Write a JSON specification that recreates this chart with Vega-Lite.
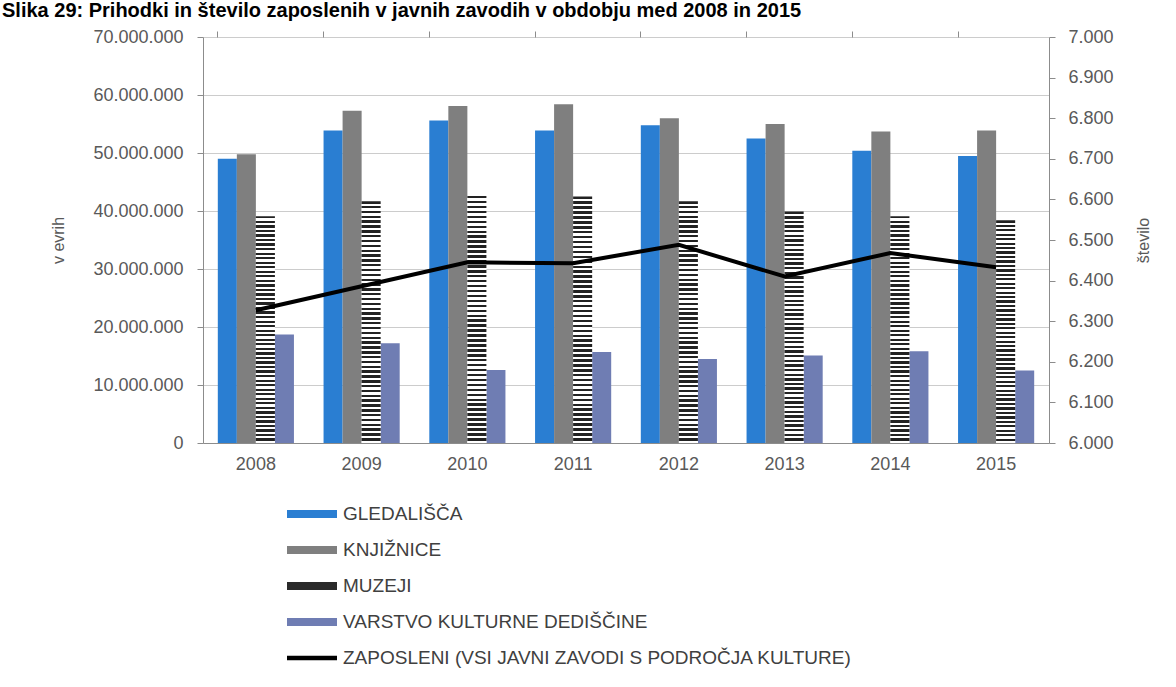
{
  "$schema": "https://vega.github.io/schema/vega-lite/v6.json",
  "width": 846,
  "height": 406,
  "autosize": "none",
  "padding": {"left": 203, "top": 37, "right": 127, "bottom": 244},
  "background": "white",
  "title": {
    "text": "Slika 29: Prihodki in število zaposlenih v javnih zavodih v obdobju med 2008 in 2015",
    "anchor": "start",
    "frame": "group",
    "dx": -201,
    "offset": 19,
    "dy": 28,
    "baseline": "alphabetic",
    "fontSize": 20,
    "fontWeight": "bold",
    "color": "#000000",
    "font": "Liberation Sans"
  },
  "config": {
    "font": "Liberation Sans",
    "locale": {"number": {"decimal": ",", "thousands": ".", "grouping": [3], "currency": ["", " €"]}},
    "view": {"stroke": null},
    "axis": {
      "labelFont": "Liberation Sans",
      "labelFontSize": 18,
      "labelColor": "#595959",
      "titleFont": "Liberation Sans",
      "titleFontSize": 16,
      "titleFontWeight": "normal",
      "titleColor": "#595959",
      "domainColor": "#8c8c8c",
      "tickColor": "#8c8c8c",
      "gridColor": "#cccccc"
    },
    "legend": {
      "orient": "none",
      "legendX": 84,
      "legendY": 452,
      "direction": "vertical",
      "symbolType": "M-1,-0.16H1V0.16H-1Z",
      "symbolSize": 2500,
      "symbolStrokeWidth": 0,
      "labelFont": "Liberation Sans",
      "labelFontSize": 19,
      "labelColor": "#404040",
      "labelOffset": 6,
      "labelLimit": 800,
      "rowPadding": 1
    }
  },
  "data": {
    "values": [
      {"leto": "2008", "serija": "GLEDALIŠČA", "vrednost": 49000000},
      {"leto": "2009", "serija": "GLEDALIŠČA", "vrednost": 53900000},
      {"leto": "2010", "serija": "GLEDALIŠČA", "vrednost": 55600000},
      {"leto": "2011", "serija": "GLEDALIŠČA", "vrednost": 53900000},
      {"leto": "2012", "serija": "GLEDALIŠČA", "vrednost": 54800000},
      {"leto": "2013", "serija": "GLEDALIŠČA", "vrednost": 52500000},
      {"leto": "2014", "serija": "GLEDALIŠČA", "vrednost": 50400000},
      {"leto": "2015", "serija": "GLEDALIŠČA", "vrednost": 49500000},
      {"leto": "2008", "serija": "KNJIŽNICE", "vrednost": 49800000},
      {"leto": "2009", "serija": "KNJIŽNICE", "vrednost": 57300000},
      {"leto": "2010", "serija": "KNJIŽNICE", "vrednost": 58100000},
      {"leto": "2011", "serija": "KNJIŽNICE", "vrednost": 58400000},
      {"leto": "2012", "serija": "KNJIŽNICE", "vrednost": 56000000},
      {"leto": "2013", "serija": "KNJIŽNICE", "vrednost": 55000000},
      {"leto": "2014", "serija": "KNJIŽNICE", "vrednost": 53700000},
      {"leto": "2015", "serija": "KNJIŽNICE", "vrednost": 53900000},
      {"leto": "2008", "serija": "MUZEJI", "vrednost": 39100000},
      {"leto": "2009", "serija": "MUZEJI", "vrednost": 41700000},
      {"leto": "2010", "serija": "MUZEJI", "vrednost": 42600000},
      {"leto": "2011", "serija": "MUZEJI", "vrednost": 42500000},
      {"leto": "2012", "serija": "MUZEJI", "vrednost": 41700000},
      {"leto": "2013", "serija": "MUZEJI", "vrednost": 39900000},
      {"leto": "2014", "serija": "MUZEJI", "vrednost": 39100000},
      {"leto": "2015", "serija": "MUZEJI", "vrednost": 38400000},
      {"leto": "2008", "serija": "VARSTVO KULTURNE DEDIŠČINE", "vrednost": 18700000},
      {"leto": "2009", "serija": "VARSTVO KULTURNE DEDIŠČINE", "vrednost": 17200000},
      {"leto": "2010", "serija": "VARSTVO KULTURNE DEDIŠČINE", "vrednost": 12600000},
      {"leto": "2011", "serija": "VARSTVO KULTURNE DEDIŠČINE", "vrednost": 15700000},
      {"leto": "2012", "serija": "VARSTVO KULTURNE DEDIŠČINE", "vrednost": 14500000},
      {"leto": "2013", "serija": "VARSTVO KULTURNE DEDIŠČINE", "vrednost": 15100000},
      {"leto": "2014", "serija": "VARSTVO KULTURNE DEDIŠČINE", "vrednost": 15800000},
      {"leto": "2015", "serija": "VARSTVO KULTURNE DEDIŠČINE", "vrednost": 12500000},
      {"leto": "2008", "serija": "ZAPOSLENI (VSI JAVNI ZAVODI S PODROČJA KULTURE)", "vrednost": 6327},
      {"leto": "2009", "serija": "ZAPOSLENI (VSI JAVNI ZAVODI S PODROČJA KULTURE)", "vrednost": 6386},
      {"leto": "2010", "serija": "ZAPOSLENI (VSI JAVNI ZAVODI S PODROČJA KULTURE)", "vrednost": 6445},
      {"leto": "2011", "serija": "ZAPOSLENI (VSI JAVNI ZAVODI S PODROČJA KULTURE)", "vrednost": 6443},
      {"leto": "2012", "serija": "ZAPOSLENI (VSI JAVNI ZAVODI S PODROČJA KULTURE)", "vrednost": 6488},
      {"leto": "2013", "serija": "ZAPOSLENI (VSI JAVNI ZAVODI S PODROČJA KULTURE)", "vrednost": 6410},
      {"leto": "2014", "serija": "ZAPOSLENI (VSI JAVNI ZAVODI S PODROČJA KULTURE)", "vrednost": 6468},
      {"leto": "2015", "serija": "ZAPOSLENI (VSI JAVNI ZAVODI S PODROČJA KULTURE)", "vrednost": 6433}
    ]
  },
  "layer": [
    {
      "layer": [
        {
          "transform": [{"filter": "datum.serija !== 'MUZEJI' && datum.serija !== 'ZAPOSLENI (VSI JAVNI ZAVODI S PODROČJA KULTURE)'"}],
          "mark": {"type": "bar"},
          "encoding": {
            "x": {
              "field": "leto", "type": "nominal",
              "scale": {"paddingInner": 0.28, "paddingOuter": 0.14},
              "axis": {"title": null, "ticks": false, "tickSize": 0, "labelPadding": 12, "labelAngle": 0, "domain": true, "grid": false}
            },
            "xOffset": {
              "field": "serija", "type": "nominal",
              "scale": {"domain": ["GLEDALIŠČA", "KNJIŽNICE", "MUZEJI", "VARSTVO KULTURNE DEDIŠČINE"], "paddingInner": 0, "paddingOuter": 0}
            },
            "y": {
              "field": "vrednost", "type": "quantitative",
              "scale": {"domain": [0, 70000000], "nice": false},
              "axis": {
                "title": "v evrih",
                "values": [0, 10000000, 20000000, 30000000, 40000000, 50000000, 60000000, 70000000],
                "format": ",d",
                "grid": true,
                "tickSize": 6,
                "labelPadding": 14,
                "titleAngle": 270,
                "titleX": -145,
                "titleY": 203,
                "titleAlign": "center",
                "titleBaseline": "middle"
              }
            },
            "color": {
              "field": "serija", "type": "nominal",
              "scale": {
                "domain": ["GLEDALIŠČA", "KNJIŽNICE", "MUZEJI", "VARSTVO KULTURNE DEDIŠČINE", "ZAPOSLENI (VSI JAVNI ZAVODI S PODROČJA KULTURE)"],
                "range": ["#2a7ed2", "#7f7f7f", "#2a2a2a", "#6f7db3", "#000000"]
              },
              "legend": {
                "title": null,
                "encode": {
                  "symbols": {
                    "update": {
                      "shape": {"signal": "datum.value === 'ZAPOSLENI (VSI JAVNI ZAVODI S PODROČJA KULTURE)' ? 'M-1,-0.09H1V0.09H-1Z' : 'M-1,-0.16H1V0.16H-1Z'"},
                      "fill": {"signal": "datum.value === 'MUZEJI' ? {gradient: 'linear', x1: 0, y1: 0, x2: 0, y2: 1, stops: [{offset: 0, color: '#222'}, {offset: 0.3, color: '#222'}, {offset: 0.3, color: '#fff'}, {offset: 0.55, color: '#fff'}, {offset: 0.55, color: '#222'}, {offset: 1, color: '#222'}]} : scale('color', datum.value)"}
                    }
                  }
                }
              }
            }
          }
        },
        {
          "transform": [{"filter": "datum.serija === 'MUZEJI'"}],
          "mark": {
            "type": "bar",
            "fill": {
              "gradient": "linear", "x1": 0, "y1": 0, "x2": 0, "y2": 1,
              "stops": [
                {"offset":0,"color":"#222"},{"offset":0.01,"color":"#222"},{"offset":0.01,"color":"#fff"},{"offset":0.02,"color":"#fff"},
                {"offset":0.02,"color":"#222"},{"offset":0.03,"color":"#222"},{"offset":0.03,"color":"#fff"},{"offset":0.04,"color":"#fff"},
                {"offset":0.04,"color":"#222"},{"offset":0.05,"color":"#222"},{"offset":0.05,"color":"#fff"},{"offset":0.06,"color":"#fff"},
                {"offset":0.06,"color":"#222"},{"offset":0.07,"color":"#222"},{"offset":0.07,"color":"#fff"},{"offset":0.08,"color":"#fff"},
                {"offset":0.08,"color":"#222"},{"offset":0.09,"color":"#222"},{"offset":0.09,"color":"#fff"},{"offset":0.10,"color":"#fff"},
                {"offset":0.10,"color":"#222"},{"offset":0.11,"color":"#222"},{"offset":0.11,"color":"#fff"},{"offset":0.12,"color":"#fff"},
                {"offset":0.12,"color":"#222"},{"offset":0.13,"color":"#222"},{"offset":0.13,"color":"#fff"},{"offset":0.14,"color":"#fff"},
                {"offset":0.14,"color":"#222"},{"offset":0.15,"color":"#222"},{"offset":0.15,"color":"#fff"},{"offset":0.16,"color":"#fff"},
                {"offset":0.16,"color":"#222"},{"offset":0.17,"color":"#222"},{"offset":0.17,"color":"#fff"},{"offset":0.18,"color":"#fff"},
                {"offset":0.18,"color":"#222"},{"offset":0.19,"color":"#222"},{"offset":0.19,"color":"#fff"},{"offset":0.20,"color":"#fff"},
                {"offset":0.20,"color":"#222"},{"offset":0.21,"color":"#222"},{"offset":0.21,"color":"#fff"},{"offset":0.22,"color":"#fff"},
                {"offset":0.22,"color":"#222"},{"offset":0.23,"color":"#222"},{"offset":0.23,"color":"#fff"},{"offset":0.24,"color":"#fff"},
                {"offset":0.24,"color":"#222"},{"offset":0.25,"color":"#222"},{"offset":0.25,"color":"#fff"},{"offset":0.26,"color":"#fff"},
                {"offset":0.26,"color":"#222"},{"offset":0.27,"color":"#222"},{"offset":0.27,"color":"#fff"},{"offset":0.28,"color":"#fff"},
                {"offset":0.28,"color":"#222"},{"offset":0.29,"color":"#222"},{"offset":0.29,"color":"#fff"},{"offset":0.30,"color":"#fff"},
                {"offset":0.30,"color":"#222"},{"offset":0.31,"color":"#222"},{"offset":0.31,"color":"#fff"},{"offset":0.32,"color":"#fff"},
                {"offset":0.32,"color":"#222"},{"offset":0.33,"color":"#222"},{"offset":0.33,"color":"#fff"},{"offset":0.34,"color":"#fff"},
                {"offset":0.34,"color":"#222"},{"offset":0.35,"color":"#222"},{"offset":0.35,"color":"#fff"},{"offset":0.36,"color":"#fff"},
                {"offset":0.36,"color":"#222"},{"offset":0.37,"color":"#222"},{"offset":0.37,"color":"#fff"},{"offset":0.38,"color":"#fff"},
                {"offset":0.38,"color":"#222"},{"offset":0.39,"color":"#222"},{"offset":0.39,"color":"#fff"},{"offset":0.40,"color":"#fff"},
                {"offset":0.40,"color":"#222"},{"offset":0.41,"color":"#222"},{"offset":0.41,"color":"#fff"},{"offset":0.42,"color":"#fff"},
                {"offset":0.42,"color":"#222"},{"offset":0.43,"color":"#222"},{"offset":0.43,"color":"#fff"},{"offset":0.44,"color":"#fff"},
                {"offset":0.44,"color":"#222"},{"offset":0.45,"color":"#222"},{"offset":0.45,"color":"#fff"},{"offset":0.46,"color":"#fff"},
                {"offset":0.46,"color":"#222"},{"offset":0.47,"color":"#222"},{"offset":0.47,"color":"#fff"},{"offset":0.48,"color":"#fff"},
                {"offset":0.48,"color":"#222"},{"offset":0.49,"color":"#222"},{"offset":0.49,"color":"#fff"},{"offset":0.50,"color":"#fff"},
                {"offset":0.50,"color":"#222"},{"offset":0.51,"color":"#222"},{"offset":0.51,"color":"#fff"},{"offset":0.52,"color":"#fff"},
                {"offset":0.52,"color":"#222"},{"offset":0.53,"color":"#222"},{"offset":0.53,"color":"#fff"},{"offset":0.54,"color":"#fff"},
                {"offset":0.54,"color":"#222"},{"offset":0.55,"color":"#222"},{"offset":0.55,"color":"#fff"},{"offset":0.56,"color":"#fff"},
                {"offset":0.56,"color":"#222"},{"offset":0.57,"color":"#222"},{"offset":0.57,"color":"#fff"},{"offset":0.58,"color":"#fff"},
                {"offset":0.58,"color":"#222"},{"offset":0.59,"color":"#222"},{"offset":0.59,"color":"#fff"},{"offset":0.60,"color":"#fff"},
                {"offset":0.60,"color":"#222"},{"offset":0.61,"color":"#222"},{"offset":0.61,"color":"#fff"},{"offset":0.62,"color":"#fff"},
                {"offset":0.62,"color":"#222"},{"offset":0.63,"color":"#222"},{"offset":0.63,"color":"#fff"},{"offset":0.64,"color":"#fff"},
                {"offset":0.64,"color":"#222"},{"offset":0.65,"color":"#222"},{"offset":0.65,"color":"#fff"},{"offset":0.66,"color":"#fff"},
                {"offset":0.66,"color":"#222"},{"offset":0.67,"color":"#222"},{"offset":0.67,"color":"#fff"},{"offset":0.68,"color":"#fff"},
                {"offset":0.68,"color":"#222"},{"offset":0.69,"color":"#222"},{"offset":0.69,"color":"#fff"},{"offset":0.70,"color":"#fff"},
                {"offset":0.70,"color":"#222"},{"offset":0.71,"color":"#222"},{"offset":0.71,"color":"#fff"},{"offset":0.72,"color":"#fff"},
                {"offset":0.72,"color":"#222"},{"offset":0.73,"color":"#222"},{"offset":0.73,"color":"#fff"},{"offset":0.74,"color":"#fff"},
                {"offset":0.74,"color":"#222"},{"offset":0.75,"color":"#222"},{"offset":0.75,"color":"#fff"},{"offset":0.76,"color":"#fff"},
                {"offset":0.76,"color":"#222"},{"offset":0.77,"color":"#222"},{"offset":0.77,"color":"#fff"},{"offset":0.78,"color":"#fff"},
                {"offset":0.78,"color":"#222"},{"offset":0.79,"color":"#222"},{"offset":0.79,"color":"#fff"},{"offset":0.80,"color":"#fff"},
                {"offset":0.80,"color":"#222"},{"offset":0.81,"color":"#222"},{"offset":0.81,"color":"#fff"},{"offset":0.82,"color":"#fff"},
                {"offset":0.82,"color":"#222"},{"offset":0.83,"color":"#222"},{"offset":0.83,"color":"#fff"},{"offset":0.84,"color":"#fff"},
                {"offset":0.84,"color":"#222"},{"offset":0.85,"color":"#222"},{"offset":0.85,"color":"#fff"},{"offset":0.86,"color":"#fff"},
                {"offset":0.86,"color":"#222"},{"offset":0.87,"color":"#222"},{"offset":0.87,"color":"#fff"},{"offset":0.88,"color":"#fff"},
                {"offset":0.88,"color":"#222"},{"offset":0.89,"color":"#222"},{"offset":0.89,"color":"#fff"},{"offset":0.90,"color":"#fff"},
                {"offset":0.90,"color":"#222"},{"offset":0.91,"color":"#222"},{"offset":0.91,"color":"#fff"},{"offset":0.92,"color":"#fff"},
                {"offset":0.92,"color":"#222"},{"offset":0.93,"color":"#222"},{"offset":0.93,"color":"#fff"},{"offset":0.94,"color":"#fff"},
                {"offset":0.94,"color":"#222"},{"offset":0.95,"color":"#222"},{"offset":0.95,"color":"#fff"},{"offset":0.96,"color":"#fff"},
                {"offset":0.96,"color":"#222"},{"offset":0.97,"color":"#222"},{"offset":0.97,"color":"#fff"},{"offset":0.98,"color":"#fff"},
                {"offset":0.98,"color":"#222"},{"offset":0.99,"color":"#222"},{"offset":0.99,"color":"#fff"},{"offset":1,"color":"#fff"}
              ]
            }
          },
          "encoding": {
            "x": {"field": "leto", "type": "nominal"},
            "xOffset": {"field": "serija", "type": "nominal"},
            "y": {"field": "vrednost", "type": "quantitative"}
          }
        }
      ]
    },
    {
      "transform": [{"filter": "datum.serija === 'ZAPOSLENI (VSI JAVNI ZAVODI S PODROČJA KULTURE)'"}],
      "mark": {"type": "line", "strokeWidth": 4},
      "encoding": {
        "x": {
          "field": "leto", "type": "nominal",
          "axis": {"title": null, "labels": false, "ticks": true, "tickSize": 6, "bandPosition": 0, "domain": false, "grid": false}
        },
        "y": {
          "field": "vrednost", "type": "quantitative",
          "scale": {"domain": [6000, 7000], "nice": false, "zero": false},
          "axis": {
            "orient": "right",
            "title": "število",
            "values": [6000, 6100, 6200, 6300, 6400, 6500, 6600, 6700, 6800, 6900, 7000],
            "format": ",d",
            "grid": false,
            "tickSize": 6,
            "labelPadding": 13,
            "titleAngle": 270,
            "titleX": 94,
            "titleY": 203,
            "titleAlign": "center",
            "titleBaseline": "middle"
          }
        },
        "color": {"field": "serija", "type": "nominal"}
      }
    }
  ],
  "resolve": {"scale": {"y": "independent"}, "axis": {"x": "independent"}}
}
